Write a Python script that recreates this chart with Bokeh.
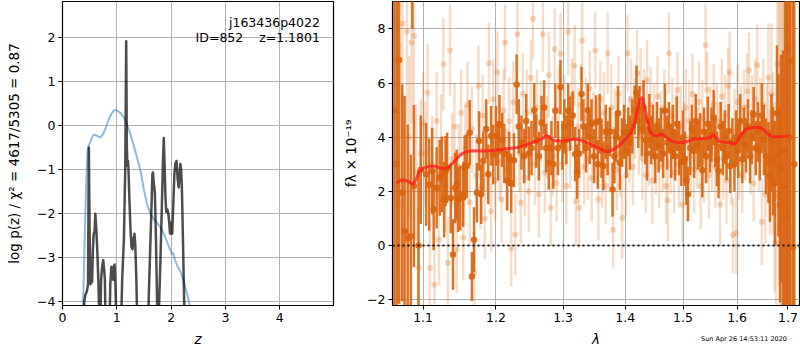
from bokeh.plotting import figure
from bokeh.layouts import row, column
from bokeh.models import FixedTicker, Span, Label, CustomJSTickFormatter, ColumnDataSource, Div
from bokeh.embed import file_html
from bokeh.resources import INLINE

# ---------------- left panel: log p(z) ----------------
z_chi2 = [0.38, 0.40, 0.42, 0.45, 0.47, 0.485, 0.50, 0.515, 0.53, 0.545,
          0.56, 0.575, 0.59, 0.605, 0.62, 0.64, 0.66, 0.69, 0.71, 0.73,
          0.75, 0.77, 0.78, 0.80, 0.86, 0.88, 0.90, 0.92, 0.935, 0.945,
          0.96, 0.975, 1.0, 1.07, 1.10, 1.13, 1.155, 1.173, 1.185, 1.195,
          1.205, 1.215, 1.23, 1.25, 1.27, 1.29, 1.31, 1.325, 1.34, 1.36,
          1.385, 1.57, 1.59, 1.61, 1.635, 1.655, 1.665, 1.68, 1.70, 1.72,
          1.745, 1.76, 1.78, 1.80, 1.83, 1.85, 1.865, 1.88, 1.895, 1.91,
          1.93, 1.95, 1.965, 1.98, 2.0, 2.02, 2.04, 2.06, 2.08, 2.10,
          2.12, 2.14, 2.155, 2.17, 2.185, 2.2, 2.22, 2.24, 2.26]
logp_chi2 = [-5.0, -4.0, -3.85, -3.75, -3.6, -0.5, -2.5, -3.6, -3.3, -3.55,
             -2.8, -2.45, -2.4, -2.0, -2.3, -2.8, -3.5, -5.0, -3.5, -3.2,
             -3.05, -3.3, -3.5, -5.0, -5.0, -3.6, -3.2, -3.3, -3.5, -3.2,
             -3.15, -3.6, -5.0, -5.0, -3.45, -2.6, -1.0, 1.92, -0.5, -0.9,
             -0.8, -1.0, -1.6, -2.3, -2.75, -2.8, -2.55, -2.45, -2.7, -3.5,
             -5.0, -5.0, -3.8, -3.0, -2.0, -1.1, -1.06, -1.3, -1.5, -2.5,
             -4.2, -5.0, -4.0, -3.2, -1.8, -0.8, -0.28, -0.9, -1.6, -1.95,
             -1.9, -2.0, -2.2, -2.45, -2.2, -2.45, -1.8, -1.1, -0.85, -0.8,
             -1.2, -1.4, -1.1, -0.87, -1.0, -1.5, -2.7, -4.0, -5.0]

z_prior = [0.36, 0.38, 0.40, 0.42, 0.44, 0.46, 0.48, 0.52, 0.56, 0.60,
           0.65, 0.70, 0.74, 0.78, 0.82, 0.86, 0.90, 0.94, 0.98, 1.02,
           1.06, 1.10, 1.13, 1.17, 1.21, 1.25, 1.30, 1.35, 1.40, 1.44,
           1.50, 1.56, 1.62, 1.68, 1.74, 1.80, 1.87, 1.93, 1.99, 2.02,
           2.04, 2.06, 2.08, 2.12, 2.17, 2.21, 2.27, 2.33, 2.40]
logp_prior = [-5.0, -4.0, -3.0, -2.0, -1.2, -0.6, -0.45, -0.35, -0.22, -0.2,
              -0.24, -0.26, -0.2, -0.1, 0.04, 0.17, 0.27, 0.34, 0.36, 0.33,
              0.3, 0.24, 0.19, 0.08, -0.05, -0.19, -0.4, -0.62, -0.85, -1.05,
              -1.45, -1.8, -2.0, -2.12, -2.2, -2.3, -2.46, -2.65, -2.84, -2.92,
              -2.88, -3.0, -3.07, -3.2, -3.3, -3.45, -3.7, -4.0, -4.4]

pz_ticks_x = [0, 1, 2, 3, 4]
pz_ticks_y = [-4, -3, -2, -1, 0, 1, 2]
root_name = "j163436p4022"
id_text = "ID=852\u00a0\u00a0\u00a0\u00a0z=1.1801"

# ---------------- right panel: spectrum ----------------
dark_wave = [1.063, 1.066, 1.069, 1.073, 1.076, 1.080, 1.084, 1.086, 1.088, 1.094,
             1.097, 1.104, 1.108, 1.112, 1.114, 1.118, 1.122, 1.125, 1.128, 1.130,
             1.132, 1.137, 1.140, 1.143, 1.145, 1.147, 1.150, 1.154, 1.156, 1.159,
             1.163, 1.166, 1.169, 1.173, 1.176, 1.179, 1.182, 1.186, 1.189, 1.193,
             1.196,
             1.200, 1.203, 1.205, 1.209, 1.212, 1.216, 1.219, 1.222, 1.226, 1.230,
             1.233, 1.237, 1.241, 1.244, 1.248, 1.252, 1.256, 1.259, 1.263, 1.267,
             1.271, 1.274, 1.278, 1.282, 1.285, 1.288, 1.292, 1.296, 1.299,
             1.302, 1.305, 1.308, 1.311, 1.315, 1.319, 1.322, 1.325, 1.329, 1.332,
             1.336, 1.339, 1.342, 1.345, 1.349, 1.352, 1.355, 1.358, 1.361, 1.364,
             1.368, 1.371, 1.375, 1.379, 1.382, 1.385, 1.388, 1.391, 1.395, 1.398,
             1.402, 1.405, 1.408, 1.412, 1.416, 1.419, 1.422, 1.424, 1.428, 1.431,
             1.434, 1.437, 1.441, 1.444, 1.447, 1.451, 1.454, 1.457, 1.461, 1.465,
             1.468, 1.472, 1.475, 1.479, 1.482, 1.486, 1.489, 1.493, 1.497,
             1.500, 1.503, 1.506, 1.509, 1.513, 1.516, 1.520, 1.523, 1.527, 1.531,
             1.535, 1.538, 1.542, 1.545, 1.549, 1.552, 1.556, 1.559, 1.562, 1.565,
             1.569, 1.573, 1.577, 1.580, 1.584, 1.587, 1.591, 1.595, 1.598,
             1.602, 1.606, 1.610, 1.613, 1.617, 1.621, 1.625, 1.628, 1.632, 1.636,
             1.640, 1.644, 1.648, 1.652, 1.656, 1.661, 1.664, 1.667, 1.670, 1.674,
             1.678, 1.681, 1.684, 1.686, 1.690, 1.694, 1.697, 1.699, 1.703, 1.705,
             1.710, 1.713]
dark_flux = [5.0, 3.0, 6.85, 1.95, 0.53, 0.27, 0.35, 12.0, 2.2, 0.0,
             2.8, 2.63, 2.25, 2.75, 1.33, 2.13, 2.5, 2.63, 1.7, 2.75,
             2.87, 1.76, -0.33, 2.13, 2.25, 1.7, 1.76, 1.9, 2.87, 2.94,
             4.17, -1.14, 0.22, 1.95, 3.86, 1.9, 3.12, 4.3, 2.63, 4.05,
             3.36,
             4.05, 3.5, 4.46, 3.9, 3.4, 2.4, 3.2, 2.3, 3.15, 5.95,
             4.4, 3.8, 3.3, 4.6, 3.4, 3.6, 5.0, 3.87, 3.3, 4.53,
             5.1, 3.6, 3.06, 3.6, 3.0, 4.98, 3.6, 5.85, 3.7,
             4.4, 3.9, 4.98, 4.5, 4.8, 3.38, 2.73, 3.4, 5.6, 4.4,
             3.6, 5.0, 4.0, 4.5, 3.3, 4.55, 3.0, 4.6, 3.5, 2.94,
             4.2, 3.6, 4.2, 2.07, 3.3, 4.0, 4.89, 3.06, 3.8, 4.2,
             3.5, 4.2, 3.8, 4.4, 5.0, 5.65, 4.6, 4.98, 4.3, 5.1,
             3.9, 3.4, 4.6, 3.9, 4.2, 3.3, 4.4, 3.7, 4.1, 3.4,
             4.98, 3.8, 4.4, 3.5, 4.2, 3.3, 4.5, 3.6, 3.1,
             4.0, 3.2, 2.4, 1.9, 3.6, 4.3, 3.5, 4.6, 3.7, 3.89,
             2.78, 4.2, 3.3, 4.5, 3.6, 4.1, 4.74, 3.8, 3.2, 2.75,
             4.4, 3.6, 4.0, 3.3, 4.23, 2.94, 3.8, 3.0, 4.0,
             3.5, 4.6, 3.2, 4.1, 3.7, 4.4, 3.3, 4.0, 4.85, 3.6,
             4.2, 3.5, 4.8, 3.9, 3.3, 3.06, 2.57, 3.8, 3.12, 2.3,
             4.89, 3.33, 1.5, 2.84, 2.2, 3.5, 1.0, 7.3, 4.0, 6.83,
             -0.06, 3.0]
dark_err = [9.0, 9.0, 9.0, 4.0, 5.0, 4.2, 3.0, 4.0, 3.0, 2.8,
            2.0, 1.9, 1.7, 1.6, 1.5, 1.5, 1.4, 1.4, 1.4, 1.3,
            1.3, 1.3, 1.3, 1.3, 1.3, 1.2, 1.2, 1.2, 1.2, 1.2,
            1.2, 0.9, 1.2, 1.1, 1.1, 1.1, 1.1, 1.1, 1.1, 1.1,
            1.1,
            1.1, 1.1, 1.1, 1.0, 1.1, 1.1, 1.0, 1.1, 1.0, 1.1,
            1.0, 1.0, 1.0, 1.0, 1.0, 1.0, 1.0, 1.0, 0.9, 1.0,
            1.0, 0.9, 1.0, 1.0, 0.9, 1.0, 1.0, 1.0, 0.9,
            1.0, 0.9, 1.0, 1.0, 0.9, 1.0, 1.0, 0.9, 1.0, 1.0,
            0.9, 1.0, 1.0, 0.9, 1.0, 1.0, 0.9, 1.0, 1.0, 0.9,
            1.0, 1.0, 0.9, 1.0, 1.0, 0.9, 1.0, 1.0, 0.9, 1.0,
            1.0, 0.9, 1.0, 1.0, 0.9, 1.0, 1.0, 0.9, 1.0, 1.0,
            0.9, 1.0, 1.0, 0.9, 1.0, 1.0, 0.9, 1.0, 1.0, 0.9,
            1.0, 1.0, 0.9, 1.0, 1.0, 0.9, 1.0, 1.0, 0.9,
            1.0, 1.0, 0.9, 1.0, 1.0, 0.9, 1.0, 1.0, 0.9, 1.0,
            1.0, 0.9, 1.0, 1.0, 0.9, 1.0, 1.0, 0.9, 1.0, 1.0,
            0.9, 1.0, 1.0, 0.9, 1.0, 1.0, 0.9, 1.0, 1.0,
            1.0, 1.0, 0.9, 1.0, 1.0, 1.0, 1.0, 1.0, 1.0, 1.0,
            1.1, 1.1, 1.2, 1.3, 1.4, 1.5, 1.7, 1.8, 2.0, 2.3,
            2.5, 3.0, 3.6, 4.2, 5.0, 7.0, 9.0, 10.0, 12.0, 12.0,
            12.0, 12.0]

light_wave = [1.063, 1.066, 1.070, 1.073, 1.076, 1.079, 1.082, 1.085, 1.088, 1.091,
              1.094, 1.097,
              1.100, 1.103, 1.106, 1.109, 1.112, 1.115, 1.118, 1.121, 1.124, 1.127,
              1.130, 1.133, 1.136, 1.139, 1.142, 1.145, 1.148, 1.151, 1.154, 1.157,
              1.160, 1.163, 1.166, 1.169, 1.172, 1.175, 1.178, 1.181, 1.184, 1.187,
              1.190, 1.193, 1.196, 1.199,
              1.202, 1.205, 1.208, 1.211, 1.213, 1.216, 1.219, 1.222, 1.225, 1.228,
              1.231, 1.234, 1.236, 1.239, 1.242, 1.245, 1.248, 1.251, 1.254, 1.257,
              1.260, 1.263, 1.266, 1.269, 1.272, 1.275, 1.278, 1.281, 1.284, 1.287,
              1.290, 1.293, 1.296, 1.299,
              1.302, 1.305, 1.308, 1.311, 1.314, 1.318, 1.320, 1.323, 1.325, 1.328,
              1.330, 1.333, 1.336, 1.339, 1.342, 1.345, 1.348, 1.351, 1.354, 1.356,
              1.359, 1.362, 1.365, 1.368, 1.371, 1.374, 1.377, 1.380, 1.383, 1.386,
              1.389, 1.392, 1.395, 1.398,
              1.401, 1.404, 1.407, 1.410, 1.413, 1.416, 1.420, 1.423, 1.426, 1.429,
              1.432, 1.435, 1.437, 1.440, 1.443, 1.446, 1.449, 1.452, 1.455, 1.458,
              1.461, 1.464, 1.467, 1.470, 1.473, 1.475, 1.478, 1.481, 1.484, 1.487,
              1.490, 1.493, 1.496, 1.499,
              1.502, 1.505, 1.508, 1.511, 1.514, 1.517, 1.520, 1.523, 1.526, 1.529,
              1.532, 1.535, 1.538, 1.541, 1.544, 1.547, 1.550, 1.553, 1.556, 1.559,
              1.562, 1.565, 1.568, 1.571, 1.574, 1.577, 1.580, 1.583, 1.586, 1.589,
              1.592, 1.595, 1.598,
              1.601, 1.604, 1.607, 1.610, 1.613, 1.616, 1.619, 1.623, 1.626, 1.629,
              1.632, 1.635, 1.639, 1.642, 1.645, 1.648, 1.651, 1.655, 1.658, 1.661,
              1.664, 1.667, 1.670, 1.673, 1.676, 1.679, 1.682, 1.685, 1.688, 1.691]
light_flux = [3.0, 6.9, 1.5, 8.2, 0.5, 7.9, 4.0, 7.5, 7.75, 2.7,
              -0.8, 3.4,
              4.5, 3.4, 5.65, -0.83, 3.0, -1.44, 4.6, 0.22, 3.9, 6.7,
              2.2, -0.64, 7.2, 3.2, 4.4, -0.15, 2.9, 4.9, 0.3, 3.6,
              5.2, 1.6, 4.3, -1.01, 2.6, 5.9, 2.1, 4.8, 1.0, 3.5,
              6.73, 1.27, 5.4, 2.4,
              6.4, 3.1, 1.7, 5.0, 7.5, 2.8, 4.6, -0.11, 5.3, 0.41,
              7.8, 3.4, 1.58, 5.6, 2.5, 4.9, 2.0, 6.2, 8.37, 3.0,
              5.1, 1.9, 4.6, 7.8, 2.7, 4.0, 6.3, 1.4, 3.3, 7.26,
              2.3, 5.0, 7.07, 3.0,
              4.8, 2.2, 7.88, 3.6, 5.5, 6.64, 1.64, 4.4, 1.4, 5.2,
              7.57, 2.9, 4.7, 3.2, 5.8, 2.5, 4.2, 7.2, 3.8, 1.7,
              5.4, 3.0, 4.9, 2.2, 7.1, 3.6, 5.1, 0.59, 4.3, 2.8,
              5.6, 3.4, 1.02, 4.6,
              2.6, 7.1, 3.9, 5.4, 2.9, 4.7, 6.36, 4.0, 5.8, 3.2,
              4.9, 2.6, 6.1, 3.7, 5.2, 2.4, 4.5, 3.3, 5.5, 2.9,
              4.3, 3.6, 5.0, 2.2, 1.67, 7.1, 3.5, 4.8, 2.7, 4.1,
              5.74, 3.0, 4.4, 1.52,
              3.8, 5.1, 2.5, 4.6, 3.3, 5.6, 2.8, 4.2, 3.6, 5.3,
              2.2, 4.7, 3.1, 7.4, 5.74, 2.6, 4.4, 3.4, 5.2, 2.9,
              4.6, 3.7, 1.52, 5.5, 3.2, 4.8, 2.4, 5.9, 6.4, 3.0,
              0.38, 4.2, 0.47,
              5.3, 3.1, 4.5, 2.6, 5.1, 3.8, 5.7, 6.46, 3.3, 4.9,
              2.3, 5.4, 6.67, 3.5, 4.6, 0.88, 5.2, 1.89, 4.1, 6.2,
              2.7, 5.6, 3.4, 1.8, 0.1, 6.7, 4.5, 2.0, 5.3, 3.0]
light_err = [9.0, 8.0, 6.0, 4.0, 4.5, 3.5, 3.0, 3.0, 2.5, 2.5,
             2.2, 2.0,
             1.9, 1.9, 1.8, 1.8, 1.8, 1.8, 1.8, 1.7, 1.7, 1.7,
             1.7, 1.7, 1.7, 1.7, 1.6, 1.6, 1.6, 1.6, 1.6, 1.6,
             1.6, 1.6, 1.6, 1.5, 1.5, 1.5, 1.5, 1.5, 1.5, 1.5,
             1.5, 1.5, 1.5, 1.5,
             1.5, 1.4, 1.6, 1.5, 1.4, 1.5, 1.6, 1.4, 1.5, 1.5,
             1.6, 1.4, 1.5, 1.5, 1.4, 1.6, 1.5, 1.4, 1.5, 1.5,
             1.4, 1.6, 1.5, 1.4, 1.5, 1.5, 1.6, 1.4, 1.5, 1.5,
             1.4, 1.6, 1.5, 1.4,
             1.5, 1.4, 1.6, 1.5, 1.4, 1.5, 1.6, 1.4, 1.5, 1.5,
             1.6, 1.4, 1.5, 1.5, 1.4, 1.6, 1.5, 1.4, 1.5, 1.5,
             1.4, 1.6, 1.5, 1.4, 1.5, 1.5, 1.6, 1.4, 1.5, 1.5,
             1.4, 1.6, 1.5, 1.4,
             1.5, 1.4, 1.6, 1.5, 1.4, 1.5, 1.6, 1.4, 1.5, 1.5,
             1.6, 1.4, 1.5, 1.5, 1.4, 1.6, 1.5, 1.4, 1.5, 1.5,
             1.4, 1.6, 1.5, 1.4, 1.5, 1.5, 1.6, 1.4, 1.5, 1.5,
             1.4, 1.6, 1.5, 1.4,
             1.5, 1.4, 1.6, 1.5, 1.4, 1.5, 1.6, 1.4, 1.5, 1.5,
             1.6, 1.4, 1.5, 1.5, 1.4, 1.6, 1.5, 1.4, 1.5, 1.5,
             1.4, 1.6, 1.5, 1.4, 1.5, 1.5, 1.6, 1.4, 1.5, 1.5,
             1.4, 1.6, 1.5,
             1.4, 1.4, 1.4, 1.4, 1.4, 1.4, 1.4, 1.4, 1.4, 1.4,
             1.4, 1.5, 1.5, 1.5, 1.6, 1.6, 1.7, 1.8, 1.9, 2.0,
             2.3, 2.6, 3.0, 3.5, 4.0, 5.0, 6.0, 7.0, 8.0, 9.0]

model_wave = [1.066, 1.072, 1.078, 1.081, 1.087, 1.091, 1.095, 1.100, 1.104, 1.110,
              1.115, 1.122, 1.129, 1.134, 1.138, 1.144, 1.150, 1.156, 1.162, 1.171,
              1.180, 1.190, 1.199, 1.210, 1.217, 1.225, 1.231, 1.240, 1.246, 1.253,
              1.260, 1.266, 1.270, 1.274, 1.278, 1.283, 1.290, 1.300, 1.310, 1.318,
              1.327, 1.333, 1.345, 1.355, 1.362, 1.368, 1.372, 1.376, 1.383, 1.390,
              1.397, 1.403, 1.410, 1.415, 1.420, 1.425, 1.429, 1.433, 1.438, 1.442,
              1.447, 1.452, 1.456, 1.462, 1.467, 1.471, 1.477, 1.482, 1.490, 1.500,
              1.510, 1.518, 1.528, 1.537, 1.549, 1.555, 1.560, 1.567, 1.575, 1.586,
              1.595, 1.600, 1.604, 1.610, 1.617, 1.627, 1.636, 1.645, 1.653, 1.661,
              1.667, 1.673, 1.680, 1.690, 1.698, 1.703]
model_flux = [2.32, 2.42, 2.40, 2.36, 2.26, 2.45, 2.72, 2.85, 2.90, 2.93,
              2.93, 2.87, 2.84, 2.88, 3.00, 3.18, 3.35, 3.44, 3.49, 3.50,
              3.49, 3.50, 3.52, 3.56, 3.58, 3.60, 3.62, 3.68, 3.74, 3.80,
              3.86, 3.92, 3.98, 4.07, 4.02, 3.92, 3.86, 3.86, 3.90, 3.93,
              3.90, 3.85, 3.72, 3.62, 3.53, 3.47, 3.46, 3.50, 3.58, 3.70,
              3.84, 3.99, 4.17, 4.45, 4.95, 5.40, 5.47, 5.10, 4.55, 4.20,
              4.08, 4.05, 4.07, 4.11, 4.06, 3.98, 3.90, 3.84, 3.81, 3.80,
              3.86, 3.93, 3.94, 3.95, 3.97, 4.10, 3.98, 3.84, 3.82, 3.80,
              3.74, 3.82, 3.98, 4.15, 4.30, 4.35, 4.37, 4.36, 4.25, 4.10,
              4.03, 4.01, 4.02, 4.03, 4.05, 4.06]

spec_ticks_x = [1.1, 1.2, 1.3, 1.4, 1.5, 1.6, 1.7]
spec_ticks_y = [-2, 0, 2, 4, 6, 8]
date_text = "Sun Apr 26 14:53:11 2020"

FONT = "DejaVu Sans"
ORANGE = "#d8640f"
minus_fmt = CustomJSTickFormatter(code="return (tick < 0 ? '\\u2212' : '') + Math.abs(tick).toString();")


def style(p):
    p.outline_line_color = "black"
    p.outline_line_width = 1.2
    p.outline_line_alpha = 1.0
    p.background_fill_color = "white"
    p.border_fill_color = "white"
    for ax in p.axis:
        ax.axis_line_color = "black"
        ax.axis_line_width = 1
        ax.major_tick_line_color = "black"
        ax.major_tick_out = 4
        ax.major_tick_in = 0
        ax.minor_tick_line_color = None
        ax.major_label_text_font = FONT
        ax.major_label_text_font_size = "12.5px"
        ax.major_label_text_color = "black"
        ax.axis_label_text_font = FONT
        ax.axis_label_text_font_size = "13.5px"
        ax.axis_label_text_color = "black"
        ax.axis_label_standoff = 6
        ax.major_label_standoff = 3
    for g in p.grid:
        g.grid_line_color = "#b0b0b0"
        g.grid_line_width = 1


H = 349
# ----- left figure -----
p1 = figure(width=338, height=H, x_range=(0, 4.99), y_range=(-4.08, 2.82),
            output_backend="svg", toolbar_location=None,
            min_border_left=62, min_border_right=5, min_border_top=1, min_border_bottom=44)
style(p1)
p1.xaxis.ticker = FixedTicker(ticks=pz_ticks_x)
p1.yaxis.ticker = FixedTicker(ticks=pz_ticks_y)
p1.xaxis.formatter = minus_fmt
p1.yaxis.formatter = minus_fmt
p1.xaxis.axis_label = "z"
p1.xaxis.axis_label_text_font_style = "italic"
p1.yaxis.axis_label = "log p(z) / \u03c7\u00b2 = 4617/5305 = 0.87"
p1.yaxis.axis_label_text_font_style = "normal"
p1.yaxis.axis_label_standoff = 12

p1.line(z_prior, logp_prior, line_color="#1f77b4", line_alpha=0.5, line_width=2)
p1.line(z_chi2, logp_chi2, line_color="black", line_alpha=0.7, line_width=2.5,
        line_join="round")

p1.add_layout(Label(x=4.74, y=2.52, text=root_name, text_align="right", text_baseline="top",
                    text_font=FONT, text_font_size="12.5px", text_color="black"))
p1.add_layout(Label(x=4.74, y=2.17, text=id_text, text_align="right", text_baseline="top",
                    text_font=FONT, text_font_size="12.5px", text_color="black"))

# ----- right figure -----
p2 = figure(width=462, height=H, x_axis_type="log", x_range=(1.0606, 1.7237),
            y_range=(-2.21, 9.01), output_backend="svg", toolbar_location=None,
            min_border_left=54, min_border_right=1, min_border_top=1, min_border_bottom=44)
style(p2)
p2.xaxis.ticker = FixedTicker(ticks=spec_ticks_x)
p2.yaxis.ticker = FixedTicker(ticks=spec_ticks_y)
p2.xaxis.formatter = CustomJSTickFormatter(code="return tick.toFixed(1);")
p2.yaxis.formatter = minus_fmt
p2.xaxis.axis_label = "\u03bb"
p2.xaxis.axis_label_text_font_style = "italic"
p2.yaxis.axis_label = "f\u03bb \u00d7 10\u207b\u00b9\u2079"
p2.yaxis.axis_label_text_font_style = "normal"
p2.yaxis.axis_label_standoff = 5

light = ColumnDataSource(dict(
    w=light_wave, f=light_flux,
    lo=[f - e for f, e in zip(light_flux, light_err)],
    hi=[f + e for f, e in zip(light_flux, light_err)]))
dark = ColumnDataSource(dict(
    w=dark_wave, f=dark_flux,
    lo=[f - e for f, e in zip(dark_flux, dark_err)],
    hi=[f + e for f, e in zip(dark_flux, dark_err)]))

p2.segment(x0="w", y0="lo", x1="w", y1="hi", source=light, line_color=ORANGE,
           line_alpha=0.22, line_width=2.5)
p2.scatter(x="w", y="f", source=light, size=6, fill_color=ORANGE, fill_alpha=0.25,
           line_color=None)
p2.segment(x0="w", y0="lo", x1="w", y1="hi", source=dark, line_color=ORANGE,
           line_alpha=0.9, line_width=2.5)
p2.scatter(x="w", y="f", source=dark, size=6.5, fill_color=ORANGE, fill_alpha=0.9,
           line_color=None)
p2.add_layout(Span(location=0, dimension="width", line_color="black", line_width=2,
                   line_dash="2 3", line_alpha=0.85))
p2.line(model_wave, model_flux, line_color="#ff1a1a", line_alpha=0.75, line_width=3)

date_div = Div(text=date_text, width=100, height=9, margin=(-14, 0, 0, 687),
               styles={"font-family": "DejaVu Sans", "font-size": "6.5px",
                       "color": "black", "text-align": "right", "white-space": "nowrap",
                       "line-height": "8px"})

layout = column(row(p1, p2), date_div, spacing=0)
open("out.html", "w").write(file_html(layout, INLINE))
